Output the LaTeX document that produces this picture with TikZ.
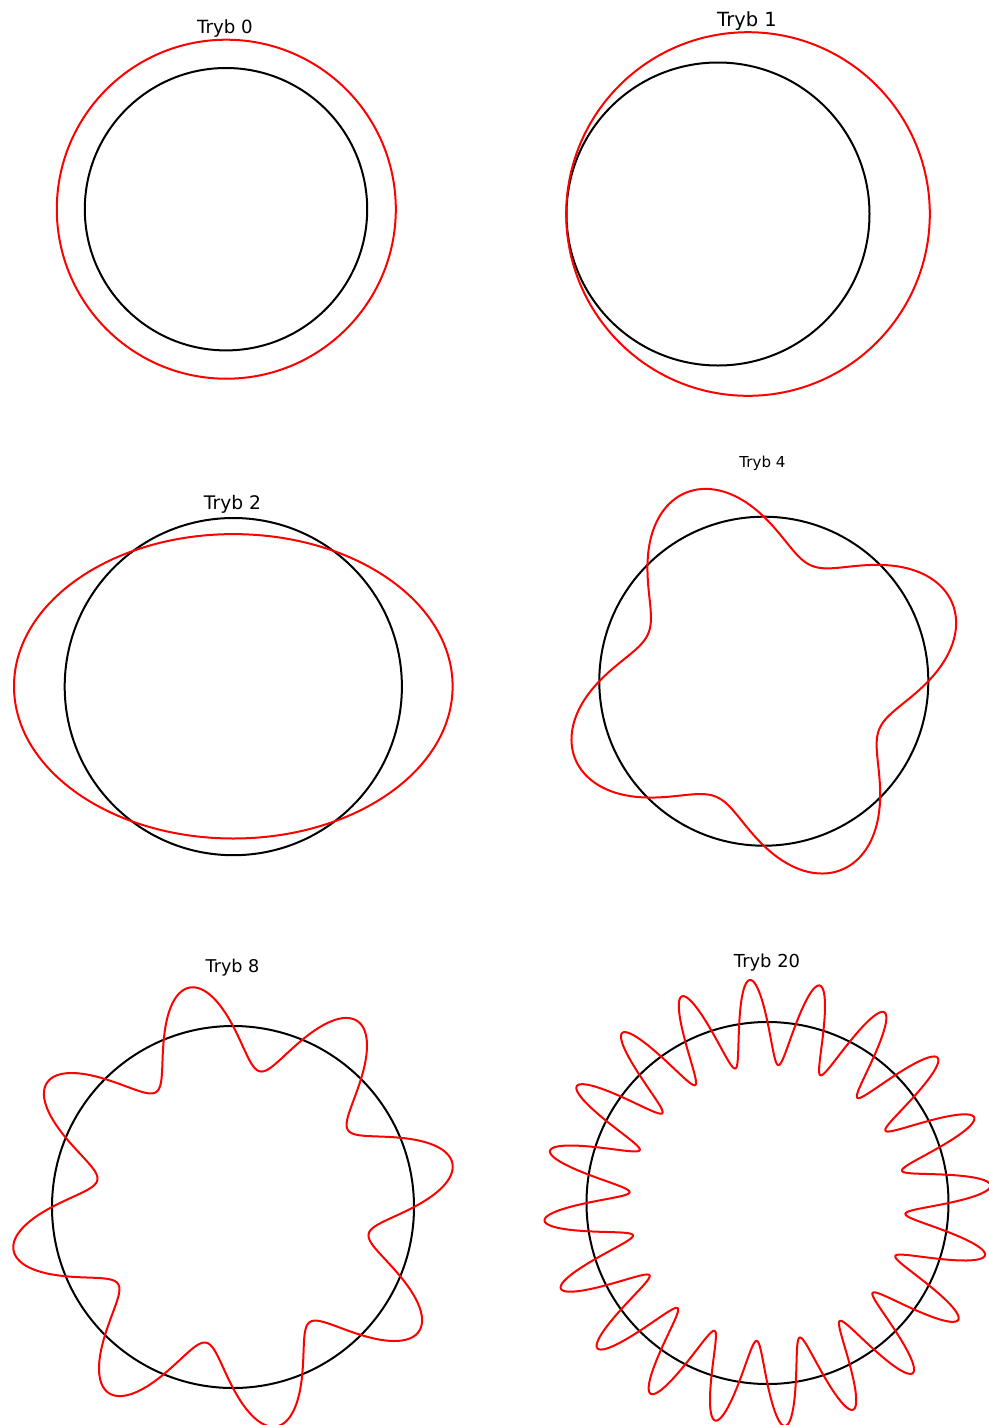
\documentclass[tikz,border=0pt]{standalone}
\usepackage{fontspec}
\setmainfont{DejaVu Sans}
\begin{document}
\begin{tikzpicture}[x=0.5pt,y=-0.5pt,
  blk/.style={black,line width=1pt},
  redline/.style={red,line width=1pt,line join=round},
  lbl/.style={anchor=base,inner sep=0pt,text=black}]
\useasboundingbox (0,0) rectangle (989,1425);
\clip (0,0) rectangle (989,1425);
% Mode 0
\node[lbl,font=\fontsize{9.1}{11}\selectfont] (t0) at (225,33.3) {Tryb 0};
\draw[blk] (226,209.2) circle[radius=70.6pt];
\draw[redline] (226.3,209.2) circle[radius=84.75pt];
% Mode 1
\node[lbl,font=\fontsize{9.75}{11}\selectfont] (t1) at (747,26) {Tryb 1};
\draw[blk] (718,214) circle[radius=75.75pt];
\draw[redline] (748,214) circle[radius=90.9pt];
% Mode 2
\node[lbl,font=\fontsize{9.35}{11}\selectfont] (t2) at (232.5,509.3) {Tryb 2};
\draw[blk] (233.3,686.6) circle[radius=84.3pt];
\draw[redline] (233.3,686.3) ellipse[x radius=109.65pt,y radius=76.1pt];
% Mode 4
\node[lbl,font=\fontsize{7.55}{9}\selectfont] (t4) at (762.5,467.3) {Tryb 4};
\draw[blk] (763.8,681.2) circle[radius=82.25pt];
\draw[redline] plot[domain=0:360,samples=361,variable=\t]
  ({763.8+(164.5+0.24*164.5*sin(4*\t))*cos(\t)},{681.2-(164.5+0.24*164.5*sin(4*\t))*sin(\t)}) -- cycle;
% Mode 8
\node[lbl,font=\fontsize{8.8}{10}\selectfont] (t8) at (232.5,972.7) {Tryb 8};
\draw[blk] (233,1207) circle[radius=90.5pt];
\draw[redline] plot[domain=0:360,samples=481,variable=\t]
  ({233+(181+0.236*181*sin(8*\t))*cos(\t)},{1207-(181+0.236*181*sin(8*\t))*sin(\t)}) -- cycle;
% Mode 20
\node[lbl,font=\fontsize{8.95}{10}\selectfont] (t20) at (767,967.3) {Tryb 20};
\draw[blk] (767.5,1203) circle[radius=90.5pt];
\draw[redline] plot[domain=0:360,samples=961,variable=\t]
  ({767.5+(181+0.236*181*sin(20*\t))*cos(\t)},{1203-(181+0.236*181*sin(20*\t))*sin(\t)}) -- cycle;
\end{tikzpicture}
\end{document}
